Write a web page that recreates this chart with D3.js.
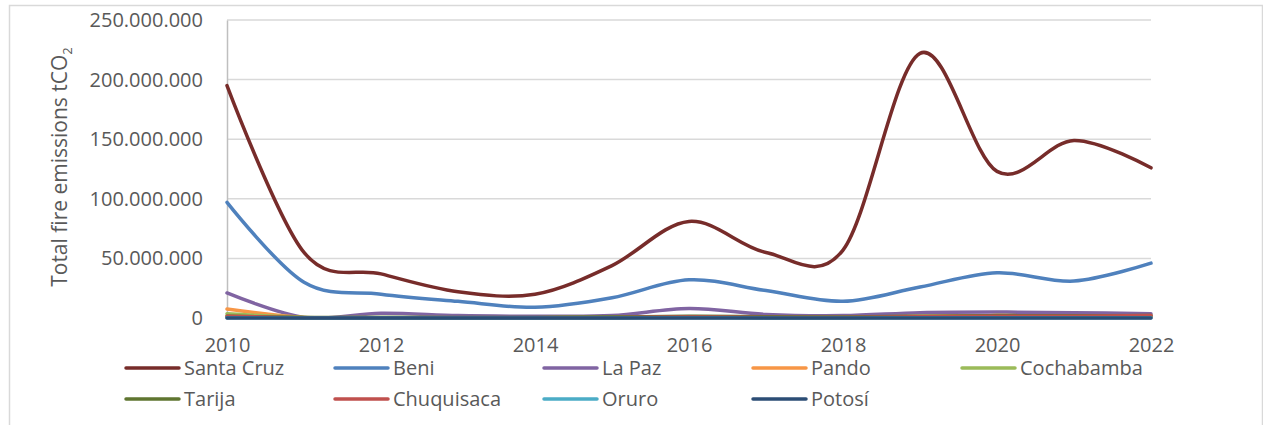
<!DOCTYPE html>
<html>
<head>
<meta charset="utf-8">
<script src="https://cdn.jsdelivr.net/npm/d3@7/dist/d3.min.js"></script>
<style>
  html, body { margin: 0; padding: 0; background: #fff; }
  svg { display: block; font-family: "Open Sans", sans-serif; }
</style>
</head>
<body>
<svg id="chart" width="1263" height="425"></svg>
<script>
// ---- data ----
const years = [2010, 2011, 2012, 2013, 2014, 2015, 2016, 2017, 2018, 2019, 2020, 2021, 2022];
const seriesNames = ["Santa Cruz", "Beni", "La Paz", "Pando", "Cochabamba", "Tarija", "Chuquisaca", "Oruro", "Potosí"];
const santaCruz  = [195e6, 55e6, 37e6, 22e6, 20e6, 44e6, 81e6, 55e6, 57e6, 222e6, 123e6, 149e6, 126e6];
const beni       = [97e6, 30e6, 20e6, 14e6, 9e6, 17e6, 32e6, 23e6, 14e6, 26e6, 38e6, 31e6, 46e6];
const laPaz      = [21e6, 0.5e6, 4e6, 2e6, 1.5e6, 2e6, 8e6, 3e6, 2e6, 4.5e6, 5e6, 4.5e6, 3.5e6];
const pando      = [7.5e6, 0.5e6, 0.3e6, 0.3e6, 0.3e6, 0.5e6, 1e6, 0.5e6, 0.5e6, 1.5e6, 2e6, 1.5e6, 1.5e6];
const cochabamba = [3.5e6, 0.5e6, 0.5e6, 0.3e6, 0.3e6, 0.5e6, 1e6, 0.5e6, 0.5e6, 1e6, 1.5e6, 1e6, 1e6];
const tarija     = [1.5e6, 0.5e6, 0.5e6, 0.5e6, 0.5e6, 0.8e6, 1.5e6, 1e6, 0.8e6, 1.5e6, 2e6, 1.8e6, 2e6];
const chuquisaca = [1.5e6, 0.3e6, 0.3e6, 0.2e6, 0.2e6, 0.3e6, 0.8e6, 0.5e6, 0.4e6, 1e6, 1.5e6, 1.5e6, 2e6];
const oruro      = [0.2e6, 0.1e6, 0.1e6, 0.1e6, 0.1e6, 0.1e6, 0.2e6, 0.1e6, 0.1e6, 0.2e6, 0.2e6, 0.2e6, 0.2e6];
const potosi     = [0, 0, 0, 0, 0, 0, 0, 0, 0, 0, 0, 0, 0];
const seriesValues = [santaCruz, beni, laPaz, pando, cochabamba, tarija, chuquisaca, oruro, potosi];
const seriesColors = ["#772C2A", "#4F81BD", "#8064A2", "#F79646", "#9BBB59", "#5F7530", "#C0504D", "#4BACC6", "#2C4D75"];
const yTicks = [0, 50e6, 100e6, 150e6, 200e6, 250e6];
const xTicks = [2010, 2012, 2014, 2016, 2018, 2020, 2022];

// ---- layout ----
const svg = d3.select("#chart");
const plot = { left: 227, right: 1151, top: 20, bottom: 318 };

// frame
svg.append("rect")
  .attr("x", 9.5).attr("y", 5.5).attr("width", 1253).attr("height", 440)
  .attr("fill", "none").attr("stroke", "#d9d9d9").attr("stroke-width", 1.5);

const x = d3.scaleLinear().domain([2010, 2022]).range([plot.left, plot.right]);
const y = d3.scaleLinear().domain([0, 250e6]).range([plot.bottom, plot.top]);

const fmt = v => v === 0 ? "0" : d3.format(",")(v).replace(/,/g, ".");

// gridlines
svg.append("g")
  .selectAll("line").data(yTicks.filter(d => d > 0)).join("line")
  .attr("x1", plot.left).attr("x2", plot.right)
  .attr("y1", d => y(d)).attr("y2", d => y(d))
  .attr("stroke", "#d9d9d9").attr("stroke-width", 1.5);

// y axis
const yAxis = svg.append("g")
  .attr("transform", `translate(${plot.left},0)`)
  .call(d3.axisLeft(y).tickValues(yTicks).tickFormat(fmt).tickSize(0).tickPadding(24));
yAxis.select(".domain").attr("stroke", "#bfbfbf").attr("stroke-width", 1.5);
yAxis.selectAll("text").attr("fill", "#595959").attr("font-size", 20)
  .attr("font-family", "'Open Sans', sans-serif");

// x axis
const xAxis = svg.append("g")
  .attr("transform", `translate(0,${plot.bottom})`)
  .call(d3.axisBottom(x).tickValues(xTicks).tickFormat(d3.format("d")).tickSize(0).tickPadding(20));
xAxis.select(".domain").attr("stroke", "#d9d9d9").attr("stroke-width", 1.5);
xAxis.selectAll("text").attr("fill", "#595959").attr("font-size", 20)
  .attr("font-family", "'Open Sans', sans-serif");

// y label
const yl = svg.append("text")
  .attr("transform", "translate(67,167) rotate(-90)")
  .attr("text-anchor", "middle")
  .attr("fill", "#595959").attr("font-size", 21);
yl.append("tspan").text("Total fire emissions tCO");
yl.append("tspan").attr("font-size", 13).attr("dy", 5).text("2");

// lines
const line = d3.line()
  .x((d, i) => x(years[i]))
  .y(d => y(d))
  .curve(d3.curveCardinal.tension(0));

svg.append("g").selectAll("path").data(seriesValues).join("path")
  .attr("d", d => line(d))
  .attr("fill", "none")
  .attr("stroke", (d, i) => seriesColors[i])
  .attr("stroke-width", 3.5)
  .attr("stroke-linecap", "round")
  .attr("stroke-linejoin", "round");

// legend
const leg = svg.append("g");
seriesNames.forEach((name, i) => {
  const row = Math.floor(i / 5), col = i % 5;
  const lx = 126 + col * 209, ly = 368 + row * 31;
  leg.append("line")
    .attr("x1", lx).attr("x2", lx + 53).attr("y1", ly).attr("y2", ly)
    .attr("stroke", seriesColors[i]).attr("stroke-width", 3.5).attr("stroke-linecap", "round");
  leg.append("text")
    .attr("x", lx + 58).attr("y", ly).attr("dy", "0.35em")
    .attr("fill", "#595959").attr("font-size", 20).text(name);
});
</script>
</body>
</html>
